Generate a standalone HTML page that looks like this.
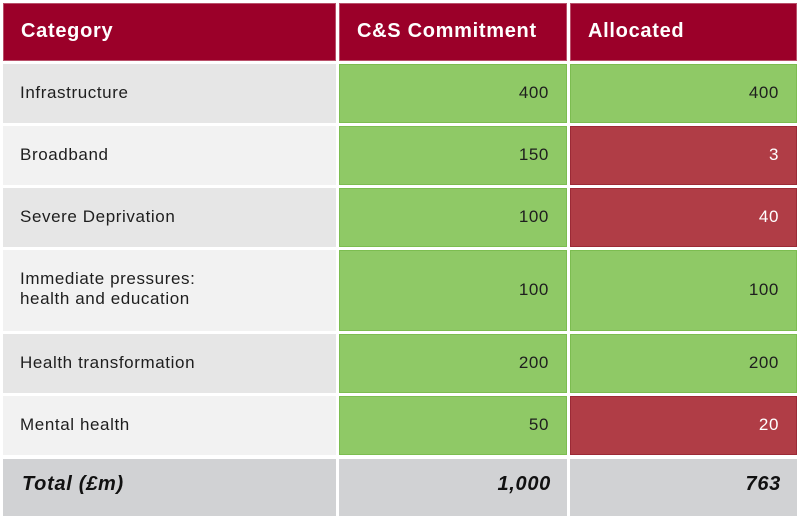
<!DOCTYPE html>
<html>
<head>
<meta charset="utf-8">
<style>
html,body{margin:0;padding:0;background:#fff;}
body{width:800px;height:520px;position:relative;overflow:hidden;font-family:"Liberation Sans",Arial,sans-serif;}
.c{position:absolute;box-sizing:border-box;}
.t{position:absolute;left:0;right:0;white-space:nowrap;}
.h{background:#9b0029;border:1px solid #b9506a;color:#fff;font-weight:bold;font-size:20px;letter-spacing:0.7px;}
.g1{background:#e6e6e6;}
.g2{background:#f2f2f2;}
.gr{background:#8fc966;border:1px solid #7cbd50;}
.rd{background:#b03d46;border:1px solid #9c2a36;color:#fff;}
.tot{background:#d1d2d4;font-weight:bold;font-style:italic;font-size:20px;letter-spacing:0.7px;color:#111;}
.b{font-size:17px;letter-spacing:0.6px;color:#1e1e1e;}
.rd.b{color:#fff;}
.L .t{padding-left:17px;text-align:left;}
.R .t{padding-right:17px;text-align:right;}
</style>
</head>
<body>
<!-- header -->
<div class="c h L" style="left:3px;top:3px;width:333px;height:58px;"><div class="t" style="top:-2px;line-height:58px;">Category</div></div>
<div class="c h L" style="left:339px;top:3px;width:228px;height:58px;"><div class="t" style="top:-2px;line-height:58px;">C&amp;S Commitment</div></div>
<div class="c h L" style="left:570px;top:3px;width:227px;height:58px;"><div class="t" style="top:-2px;line-height:58px;">Allocated</div></div>

<!-- row 1 -->
<div class="c g1 b L" style="left:3px;top:64px;width:333px;height:59px;"><div class="t" style="top:-1px;line-height:59px;">Infrastructure</div></div>
<div class="c gr b R" style="left:339px;top:64px;width:228px;height:59px;"><div class="t" style="top:-2px;line-height:59px;">400</div></div>
<div class="c gr b R" style="left:570px;top:64px;width:227px;height:59px;"><div class="t" style="top:-2px;line-height:59px;">400</div></div>

<!-- row 2 -->
<div class="c g2 b L" style="left:3px;top:126px;width:333px;height:59px;"><div class="t" style="top:-1px;line-height:59px;">Broadband</div></div>
<div class="c gr b R" style="left:339px;top:126px;width:228px;height:59px;"><div class="t" style="top:-2px;line-height:59px;">150</div></div>
<div class="c rd b R" style="left:570px;top:126px;width:227px;height:59px;"><div class="t" style="top:-2px;line-height:59px;">3</div></div>

<!-- row 3 -->
<div class="c g1 b L" style="left:3px;top:188px;width:333px;height:59px;"><div class="t" style="top:-1px;line-height:59px;">Severe Deprivation</div></div>
<div class="c gr b R" style="left:339px;top:188px;width:228px;height:59px;"><div class="t" style="top:-2px;line-height:59px;">100</div></div>
<div class="c rd b R" style="left:570px;top:188px;width:227px;height:59px;"><div class="t" style="top:-2px;line-height:59px;">40</div></div>

<!-- row 4 -->
<div class="c g2 b L" style="left:3px;top:250px;width:333px;height:81px;"><div class="t" style="top:19px;line-height:20px;">Immediate pressures:<br>health and education</div></div>
<div class="c gr b R" style="left:339px;top:250px;width:228px;height:81px;"><div class="t" style="top:-2px;line-height:81px;">100</div></div>
<div class="c gr b R" style="left:570px;top:250px;width:227px;height:81px;"><div class="t" style="top:-2px;line-height:81px;">100</div></div>

<!-- row 5 -->
<div class="c g1 b L" style="left:3px;top:334px;width:333px;height:59px;"><div class="t" style="top:-1px;line-height:59px;">Health transformation</div></div>
<div class="c gr b R" style="left:339px;top:334px;width:228px;height:59px;"><div class="t" style="top:-2px;line-height:59px;">200</div></div>
<div class="c gr b R" style="left:570px;top:334px;width:227px;height:59px;"><div class="t" style="top:-2px;line-height:59px;">200</div></div>

<!-- row 6 -->
<div class="c g2 b L" style="left:3px;top:396px;width:333px;height:59px;"><div class="t" style="top:-1px;line-height:59px;">Mental health</div></div>
<div class="c gr b R" style="left:339px;top:396px;width:228px;height:59px;"><div class="t" style="top:-2px;line-height:59px;">50</div></div>
<div class="c rd b R" style="left:570px;top:396px;width:227px;height:59px;"><div class="t" style="top:-2px;line-height:59px;">20</div></div>

<!-- total -->
<div class="c tot L" style="left:3px;top:459px;width:333px;height:57px;"><div class="t" style="top:-3px;line-height:57px;padding-left:19px;">Total (£m)</div></div>
<div class="c tot R" style="left:339px;top:459px;width:228px;height:57px;"><div class="t" style="top:-3px;line-height:57px;padding-right:16px;">1,000</div></div>
<div class="c tot R" style="left:570px;top:459px;width:227px;height:57px;"><div class="t" style="top:-3px;line-height:57px;padding-right:16px;">763</div></div>
</body>
</html>
